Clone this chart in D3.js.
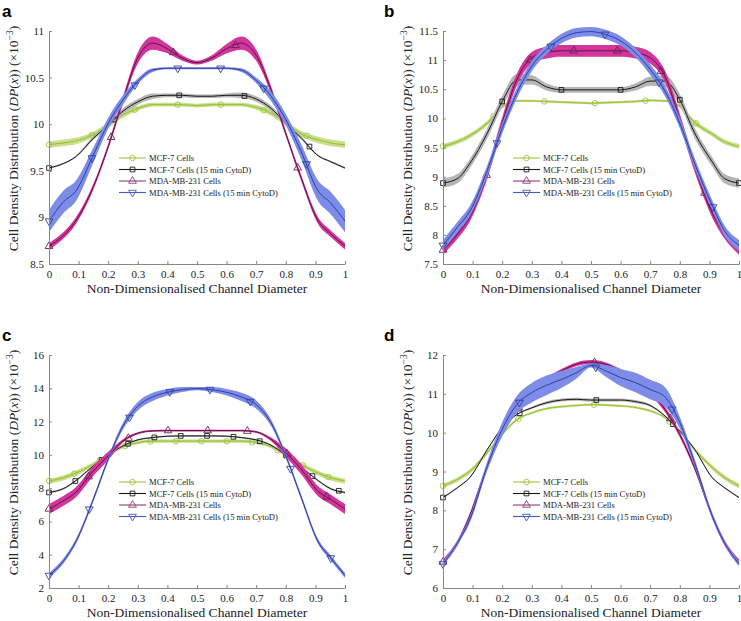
<!DOCTYPE html>
<html lang="en">
<head>
<meta charset="UTF-8">
<title>Cell Density Distribution</title>
<script src="https://d3js.org/d3.v7.min.js"></script>
<style>
  body { margin: 0; background: #fff; }
  svg { display: block; }
  .tick text { font-family: "Liberation Serif", "Times New Roman", serif; font-size: 11px; fill: #222; }
  .axis path, .axis line { stroke: #888; }
</style>
</head>
<body>
<svg id="fig" width="741" height="621"></svg>
<script>
// x positions of the sampled profile (non-dimensionalised channel diameter)
const X = [0, 0.05, 0.09, 0.15, 0.2, 0.25, 0.3, 0.35, 0.4, 0.45, 0.5, 0.55, 0.6, 0.65, 0.7, 0.75, 0.8, 0.85, 0.91, 0.95, 1];
const xTicks = [0, 0.1, 0.2, 0.3, 0.4, 0.5, 0.6, 0.7, 0.8, 0.9, 1];
const seriesNames = ["MCF-7 Cells", "MCF-7 Cells (15 min CytoD)", "MDA-MB-231 Cells", "MDA-MB-231 Cells (15 min CytoD)"];

// panel a
const aYTicks = [8.5, 9, 9.5, 10, 10.5, 11];
const aMCF7 = [9.78, 9.80, 9.82, 9.89, 9.99, 10.10, 10.17, 10.21, 10.21, 10.21, 10.20, 10.21, 10.21, 10.21, 10.18, 10.12, 10.01, 9.90, 9.83, 9.80, 9.78];
const aMCF7Cyto = [9.53, 9.58, 9.65, 9.85, 9.99, 10.14, 10.24, 10.30, 10.31, 10.31, 10.30, 10.30, 10.31, 10.31, 10.27, 10.17, 10.01, 9.86, 9.66, 9.60, 9.53];
const aMDA = [8.69, 8.81, 8.96, 9.33, 9.76, 10.26, 10.71, 10.87, 10.81, 10.71, 10.66, 10.71, 10.81, 10.87, 10.74, 10.37, 9.90, 9.44, 8.96, 8.83, 8.69];
const aMDACyto = [8.96, 9.17, 9.28, 9.67, 10.01, 10.26, 10.46, 10.58, 10.60, 10.60, 10.60, 10.60, 10.60, 10.58, 10.47, 10.30, 10.05, 9.72, 9.28, 9.16, 8.96];
const aMCF7Err = [.035, .035, .035, .03, .03, .03, .025, .02, .02, .02, .02, .02, .02, .02, .025, .03, .03, .03, .035, .035, .035];
const aMCF7CytoErr = [.01, .01, .01, .02, .02, .03, .03, .03, .02, .02, .02, .02, .02, .03, .03, .03, .02, .02, .01, .01, .01];
const aMDAErr = [.035, .035, .035, .03, .03, .04, .06, .07, .05, .03, .02, .03, .05, .07, .06, .04, .03, .03, .035, .035, .035];
const aMDACytoErr = [.12, .12, .11, .08, .06, .05, .03, .02, .01, .01, .01, .01, .01, .02, .03, .05, .06, .08, .11, .12, .12];
const aMarkerStep = [0.145, 0.22, 0.21, 0.145];

// panel b
const bYTicks = [7.5, 8, 8.5, 9, 9.5, 10, 10.5, 11, 11.5];
const bMCF7 = [9.52, 9.60, 9.70, 9.92, 10.20, 10.30, 10.30, 10.29, 10.28, 10.27, 10.26, 10.27, 10.28, 10.29, 10.31, 10.30, 10.21, 9.93, 9.73, 9.60, 9.52];
const bMCF7Cyto = [8.89, 8.97, 9.22, 9.75, 10.29, 10.66, 10.66, 10.54, 10.49, 10.49, 10.49, 10.49, 10.49, 10.54, 10.64, 10.64, 10.32, 9.75, 9.25, 8.97, 8.89];
const bMDA = [7.74, 8.02, 8.30, 9.06, 9.92, 10.67, 11.04, 11.13, 11.16, 11.16, 11.16, 11.16, 11.16, 11.13, 11.04, 10.72, 9.98, 9.17, 8.37, 8.02, 7.74];
const bMDACyto = [7.82, 8.14, 8.40, 9.11, 9.83, 10.44, 10.90, 11.18, 11.37, 11.47, 11.49, 11.44, 11.33, 11.13, 10.84, 10.47, 9.92, 9.23, 8.50, 8.08, 7.82];
const bMCF7Err = [.04, .04, .04, .04, .03, .02, .02, .02, .02, .02, .02, .02, .02, .02, .02, .02, .03, .04, .04, .04, .04];
const bMCF7CytoErr = [.08, .08, .08, .09, .1, .1, .08, .06, .05, .05, .05, .05, .05, .06, .08, .1, .1, .09, .08, .08, .08];
const bMDAErr = [.08, .08, .08, .09, .1, .1, .1, .1, .1, .1, .1, .1, .1, .1, .1, .1, .1, .09, .08, .08, .08];
const bMDACytoErr = [.09, .09, .09, .09, .09, .09, .09, .08, .08, .08, .08, .08, .08, .08, .09, .09, .09, .09, .09, .09, .09];
const bMarkerStep = [0.171, 0.2, 0.1473, 0.1824];

// panel c
const cYTicks = [2, 4, 6, 8, 10, 12, 14, 16];
const cMCF7 = [8.43, 8.63, 8.90, 9.44, 9.98, 10.50, 10.74, 10.82, 10.82, 10.82, 10.82, 10.82, 10.82, 10.82, 10.74, 10.50, 9.98, 9.44, 8.90, 8.63, 8.43];
const cMCF7Cyto = [7.74, 7.98, 8.44, 9.34, 9.98, 10.54, 10.90, 11.04, 11.12, 11.14, 11.14, 11.14, 11.12, 11.04, 10.90, 10.58, 9.98, 9.30, 8.44, 7.98, 7.74];
const cMDA = [6.75, 7.25, 7.74, 9.04, 9.94, 10.84, 11.30, 11.44, 11.46, 11.46, 11.46, 11.46, 11.46, 11.46, 11.38, 10.94, 10.14, 9.18, 7.80, 7.34, 6.75];
const cMDACyto = [2.75, 3.65, 4.76, 7.34, 9.74, 11.73, 12.92, 13.48, 13.76, 13.92, 13.98, 13.92, 13.76, 13.48, 13.02, 11.93, 9.94, 7.55, 4.76, 3.85, 2.75];
const cMCF7Err = [.15, .15, .15, .12, .1, .1, .1, .1, .1, .1, .1, .1, .1, .1, .1, .1, .1, .12, .15, .15, .15];
const cMCF7CytoErr = [.06, .06, .06, .05, .05, .05, .05, .05, .05, .05, .05, .05, .05, .05, .05, .05, .05, .05, .06, .06, .06];
const cMDAErr = [.3, .3, .3, .3, .25, .1, .06, .05, .05, .05, .05, .05, .05, .05, .06, .1, .25, .3, .3, .3, .3];
const cMDACytoErr = [.15, .15, .15, .15, .15, .2, .25, .25, .2, .15, .1, .15, .2, .25, .25, .2, .15, .15, .15, .15, .15];
const cMarkerStep = [0.0858, 0.089, 0.134, 0.136];

// panel d
const dYTicks = [6, 7, 8, 9, 10, 11, 12];
const dMCF7 = [8.63, 8.80, 9.00, 9.49, 9.96, 10.34, 10.51, 10.62, 10.67, 10.70, 10.72, 10.71, 10.69, 10.65, 10.56, 10.39, 10.04, 9.57, 9.10, 8.85, 8.63];
const dMCF7Cyto = [8.33, 8.59, 8.84, 9.57, 10.13, 10.47, 10.64, 10.77, 10.84, 10.86, 10.84, 10.84, 10.84, 10.80, 10.70, 10.43, 10.04, 9.57, 8.84, 8.59, 8.33];
const dMDA = [6.67, 7.18, 7.85, 9.15, 10.00, 10.60, 11.03, 11.36, 11.59, 11.76, 11.82, 11.76, 11.59, 11.36, 11.03, 10.60, 9.95, 9.10, 7.85, 7.18, 6.67];
const dMDACyto = [6.62, 7.18, 7.75, 9.15, 10.09, 10.73, 11.03, 11.22, 11.37, 11.54, 11.73, 11.59, 11.42, 11.29, 11.11, 10.92, 10.26, 9.23, 7.85, 7.18, 6.62];
const dMCF7Err = [.06, .06, .06, .05, .04, .03, .03, .03, .03, .03, .03, .03, .03, .03, .03, .03, .04, .05, .06, .06, .06];
const dMCF7CytoErr = [.02, .02, .02, .02, .02, .02, .03, .04, .04, .04, .04, .04, .04, .04, .03, .02, .02, .02, .02, .02, .02];
const dMDAErr = [.07, .07, .07, .07, .07, .07, .06, .06, .05, .05, .05, .05, .05, .06, .06, .07, .07, .07, .07, .07, .07];
const dMDACytoErr = [.06, .06, .08, .12, .18, .22, .25, .25, .22, .15, .05, .15, .22, .25, .25, .25, .15, .1, .08, .06, .06];
const dMarkerStep = [0.255, 0.259, 0.256, 0.258];

const panels = [
  { label: "a", left: 49, top: 31, yTicks: aYTicks, lines: [aMCF7, aMCF7Cyto, aMDA, aMDACyto], errs: [aMCF7Err, aMCF7CytoErr, aMDAErr, aMDACytoErr], steps: aMarkerStep },
  { label: "b", left: 443, top: 31, yTicks: bYTicks, lines: [bMCF7, bMCF7Cyto, bMDA, bMDACyto], errs: [bMCF7Err, bMCF7CytoErr, bMDAErr, bMDACytoErr], steps: bMarkerStep },
  { label: "c", left: 49, top: 355, yTicks: cYTicks, lines: [cMCF7, cMCF7Cyto, cMDA, cMDACyto], errs: [cMCF7Err, cMCF7CytoErr, cMDAErr, cMDACytoErr], steps: cMarkerStep },
  { label: "d", left: 443, top: 355, yTicks: dYTicks, lines: [dMCF7, dMCF7Cyto, dMDA, dMDACyto], errs: [dMCF7Err, dMCF7CytoErr, dMDAErr, dMDACytoErr], steps: dMarkerStep }
];

const styles = [
  { line: "#9bc53d", band: "#c9df8e", marker: "#9bc53d", legend: "#9bc53d", symbol: d3.symbolCircle, size: 24, rot: 0 },
  { line: "#1a1a1a", band: "#b5b5b5", marker: "#1a1a1a", legend: "#1a1a1a", symbol: d3.symbolSquare, size: 22, rot: 0 },
  { line: "#5e1744", band: "#d2359b", marker: "#6e1f55", legend: "#8a3d78", symbol: d3.symbolTriangle, size: 26, rot: 0 },
  { line: "#2f3fa3", band: "#7d8ce6", marker: "#2f3fa3", legend: "#4a5bc0", symbol: d3.symbolTriangle, size: 26, rot: 180 }
];

const W = 296, H = 233;
const serif = "'Liberation Serif', 'Times New Roman', serif";
const svg = d3.select("#fig");

function valueAt(ys, x) {
  let i = Math.min(Math.max(d3.bisectRight(X, x), 1), X.length - 1);
  const x0 = X[i - 1], x1 = X[i];
  const t = (x - x0) / (x1 - x0);
  return ys[i - 1] + t * (ys[i] - ys[i - 1]);
}

panels.forEach(p => {
  const g = svg.append("g").attr("transform", `translate(${p.left},${p.top})`);
  const x = d3.scaleLinear().domain([0, 1]).range([0, W]);
  const y = d3.scaleLinear().domain(d3.extent(p.yTicks)).range([H, 0]);

  // series: band then line then markers
  p.lines.forEach((ys, k) => {
    const st = styles[k];
    const err = p.errs[k];
    const pts = X.map((xv, i) => ({ x: xv, y: ys[i], e: err[i] }));
    g.append("path")
      .datum(pts)
      .attr("fill", st.band)
      .attr("d", d3.area().x(d => x(d.x)).y0(d => y(d.y - d.e)).y1(d => y(d.y + d.e)).curve(d3.curveMonotoneX));
    g.append("path")
      .datum(pts)
      .attr("fill", "none")
      .attr("stroke", st.line)
      .attr("stroke-width", k === 0 ? 1.2 : 1)
      .attr("d", d3.line().x(d => x(d.x)).y(d => y(d.y)).curve(d3.curveMonotoneX));
    const mx = d3.range(0, 1 + 1e-6, p.steps[k]);
    g.selectAll(null)
      .data(mx)
      .enter().append("path")
      .attr("d", d3.symbol().type(st.symbol).size(st.size))
      .attr("transform", d => `translate(${x(d)},${y(valueAt(ys, d))}) rotate(${st.rot})`)
      .attr("fill", "none")
      .attr("stroke", st.marker)
      .attr("stroke-width", 0.9);
  });

  // axes with inward ticks
  g.append("g").attr("class", "axis")
    .call(d3.axisLeft(y).tickValues(p.yTicks).tickFormat(d => String(d)).tickSizeInner(-3).tickSizeOuter(0).tickPadding(5));
  g.append("g").attr("class", "axis")
    .attr("transform", `translate(0,${H})`)
    .call(d3.axisBottom(x).tickValues(xTicks).tickFormat(d => String(d)).tickSizeInner(-3).tickSizeOuter(0).tickPadding(6));

  // axis titles
  g.append("text")
    .attr("x", W / 2).attr("y", H + 29)
    .attr("text-anchor", "middle")
    .style("font-family", serif).style("font-size", "13.5px").attr("fill", "#222")
    .text("Non-Dimensionalised Channel Diameter");

  const yt = g.append("text")
    .attr("transform", `translate(-31,${H / 2 - 9}) rotate(-90)`)
    .attr("text-anchor", "middle")
    .style("font-family", serif).style("font-size", "13.5px").attr("fill", "#222");
  yt.append("tspan").text("Cell Density Distribution (");
  yt.append("tspan").style("font-style", "italic").text("DP");
  yt.append("tspan").text("(");
  yt.append("tspan").style("font-style", "italic").text("x");
  yt.append("tspan").text(")) (×10");
  yt.append("tspan").attr("dy", -5).style("font-size", "9.5px").text("−3");
  yt.append("tspan").attr("dy", 5).text(")");

  // legend
  const lg = g.append("g").attr("transform", "translate(70,127)");
  seriesNames.forEach((name, k) => {
    const st = styles[k];
    const row = lg.append("g").attr("transform", `translate(0,${k * 11.5})`);
    row.append("line").attr("x1", 0).attr("x2", 27).attr("stroke", st.legend).attr("stroke-width", 1.1);
    row.append("path")
      .attr("d", d3.symbol().type(st.symbol).size(st.size))
      .attr("transform", `translate(13.5,0) rotate(${st.rot})`)
      .attr("fill", "none").attr("stroke", st.legend).attr("stroke-width", 0.9);
    row.append("text")
      .attr("x", 30).attr("y", 3)
      .style("font-family", serif).style("font-size", "8.6px").attr("fill", "#222")
      .text(name);
  });

  // panel letter
  svg.append("text")
    .attr("x", p.left - 47 + (p.left > 200 ? -12 : 0)).attr("y", p.top - 14 + (p.top > 200 ? 0 : 0))
    .style("font-family", "'Liberation Sans', Arial, sans-serif")
    .style("font-weight", "bold").style("font-size", "17px")
    .text(p.label);
});
</script>
</body>
</html>
